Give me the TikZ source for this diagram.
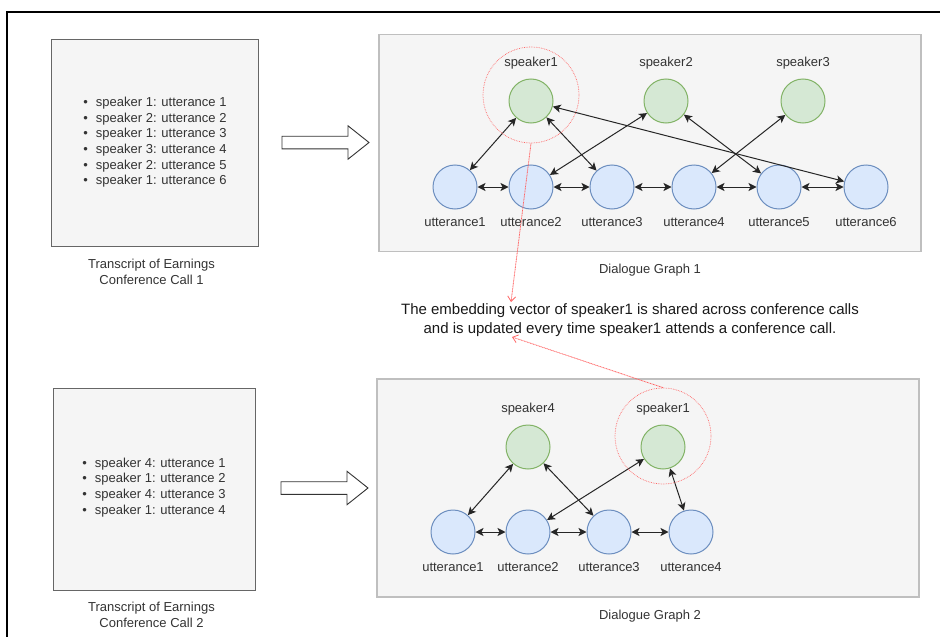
\documentclass[tikz,border=0pt]{standalone}
\usepackage{fontspec}
\setmainfont{Liberation Sans}
\usetikzlibrary{arrows.meta}
\definecolor{spkfill}{HTML}{D5E8D4}
\definecolor{spkline}{HTML}{82B366}
\definecolor{uttfill}{HTML}{DAE8FC}
\definecolor{uttline}{HTML}{6C8EBF}
\definecolor{panelfill}{HTML}{F5F5F5}
\definecolor{panelline}{HTML}{666666}
\definecolor{txtgrey}{HTML}{333333}
\definecolor{linkred}{HTML}{FF6666}
\tikzset{every node/.style={font=\fontsize{13}{15.7}\selectfont},
  panel/.style={draw=panelline,fill=panelfill,line width=0.8pt},
  gbox/.style={draw=black!25,fill=panelfill,line width=1.3pt},
  spk/.style={circle,draw=spkline,fill=spkfill,line width=1pt,
    minimum size=44pt,inner sep=0pt},
  utt/.style={circle,draw=uttline,fill=uttfill,line width=1pt,
    minimum size=44pt,inner sep=0pt},
  lbl/.style={text=txtgrey,inner sep=0pt,outer sep=0pt}}
\newcommand{\fN}{\fontsize{15}{19}\selectfont}
\newcommand{\fC}{\fontsize{13}{16}\selectfont}
\newcommand{\blockarr}[2]{%
  \draw[blk] (#1,{#2-6.3}) -- ({#1+66},{#2-6.3}) -- ({#1+66},{#2-16.7})
    -- ({#1+87},#2) -- ({#1+66},{#2+16.7}) -- ({#1+66},{#2+6.3})
    -- (#1,{#2+6.3}) -- cycle;}
\newcommand{\spknode}[4]{%
  \node[spk] (#1) at (#2,#3) {};
  \node[lbl] (#1l) at (#2,{#3-38}) {#4};}
\newcommand{\uttnode}[4]{%
  \node[utt] (#1) at (#2,#3) {};
  \node[lbl] (#1l) at (#2,{#3+35}) {#4};}

\begin{document}
\begin{tikzpicture}[x=1pt,y=-1pt,
    blk/.style={draw=black!80,fill=white,line width=0.9pt},
    biarr/.style={draw=black!85,line width=1pt,
      {Stealth[length=8pt,width=8pt,inset=2pt]}-{Stealth[length=8pt,width=8pt,inset=2pt]}},
    ring/.style={circle,draw=linkred,densely dotted,line width=0.7pt,
      minimum size=96pt,inner sep=0pt},
    redarr/.style={draw=linkred,dash pattern=on 1pt off 0.6pt,line width=0.8pt,
      -{Straight Barb[length=5pt,width=8pt]}}]
  \path[use as bounding box] (0,0) rectangle (940,637);
  \draw[line width=1.2pt] (940,12) -- (7,12) -- (7,637);

  % Conference call 1: transcript -> dialogue graph
  \node[panel,minimum width=206.6pt,minimum height=207.4pt] (tr1) at (155,143) {};
  \node[lbl] (list1) at (155,142.5) {\begin{tabular}{@{}l@{\hspace{8pt}}l@{}}
    \textbullet & speaker 1: utterance 1\\
    \textbullet & speaker 2: utterance 2\\
    \textbullet & speaker 1: utterance 3\\
    \textbullet & speaker 3: utterance 4\\
    \textbullet & speaker 2: utterance 5\\
    \textbullet & speaker 1: utterance 6\end{tabular}};
  \node[lbl,align=center,font=\fC] (cap1) at (151.5,272) {Transcript of Earnings\\Conference Call 1};
  \blockarr{282}{142.5}
  \node[gbox,minimum width=542pt,minimum height=217pt] (g1) at (650,143) {};
  \node[lbl] (g1l) at (650,270) {Dialogue Graph 1};
  \spknode{sa}{531}{101}{speaker1}
  \spknode{sb}{666}{101}{speaker2}
  \spknode{sc}{803}{101}{speaker3}
  \uttnode{ua}{455}{187}{utterance1}
  \uttnode{ub}{531}{187}{utterance2}
  \uttnode{uc}{612}{187}{utterance3}
  \uttnode{ud}{694}{187}{utterance4}
  \uttnode{ue}{779}{187}{utterance5}
  \uttnode{uf}{866}{187}{utterance6}
  \draw[biarr] (sa) -- (ua);
  \draw[biarr] (sa) -- (uc);
  \draw[biarr] (sa) -- (uf);
  \draw[biarr] (sb) -- (ub);
  \draw[biarr] (sb) -- (ue);
  \draw[biarr] (sc) -- (ud);
  \draw[biarr] (ua) -- (ub);
  \draw[biarr] (ub) -- (uc);
  \draw[biarr] (uc) -- (ud);
  \draw[biarr] (ud) -- (ue);
  \draw[biarr] (ue) -- (uf);

  % Conference call 2
  \node[panel,minimum width=202pt,minimum height=202pt] (tr2) at (154,489) {};
  \node[lbl] (list2) at (154,487.5) {\begin{tabular}{@{}l@{\hspace{8pt}}l@{}}
    \textbullet & speaker 4: utterance 1\\
    \textbullet & speaker 1: utterance 2\\
    \textbullet & speaker 4: utterance 3\\
    \textbullet & speaker 1: utterance 4\end{tabular}};
  \node[lbl,align=center,font=\fC] (cap2) at (151.5,615) {Transcript of Earnings\\Conference Call 2};
  \blockarr{281}{488}
  \node[gbox,minimum width=542pt,minimum height=218pt] (g2) at (648,488) {};
  \node[lbl] (g2l) at (650,616) {Dialogue Graph 2};
  \spknode{sd}{528}{447}{speaker4}
  \spknode{se}{663}{447}{speaker1}
  \uttnode{va}{453}{532}{utterance1}
  \uttnode{vb}{528}{532}{utterance2}
  \uttnode{vc}{609}{532}{utterance3}
  \uttnode{vd}{691}{532}{utterance4}
  \draw[biarr] (sd) -- (va);
  \draw[biarr] (sd) -- (vc);
  \draw[biarr] (se) -- (vb);
  \draw[biarr] (se) -- (vd);
  \draw[biarr] (va) -- (vb);
  \draw[biarr] (vb) -- (vc);
  \draw[biarr] (vc) -- (vd);

  % shared speaker embedding
  \node[lbl,text=black!90,align=center,font=\fN] (note) at (630,320.5)
    {The embedding vector of speaker1 is shared across conference calls\\
     and is updated every time speaker1 attends a conference call.};
  \node[ring] (ringa) at (531,95) {};
  \node[ring] (ringb) at (663,436) {};
  \coordinate (notetop) at (511,302);
  \coordinate (notebot) at (512,337);
  \draw[redarr] (ringa.south) -- (notetop);
  \draw[redarr] (ringb.north) -- (notebot);
\end{tikzpicture}
\end{document}
